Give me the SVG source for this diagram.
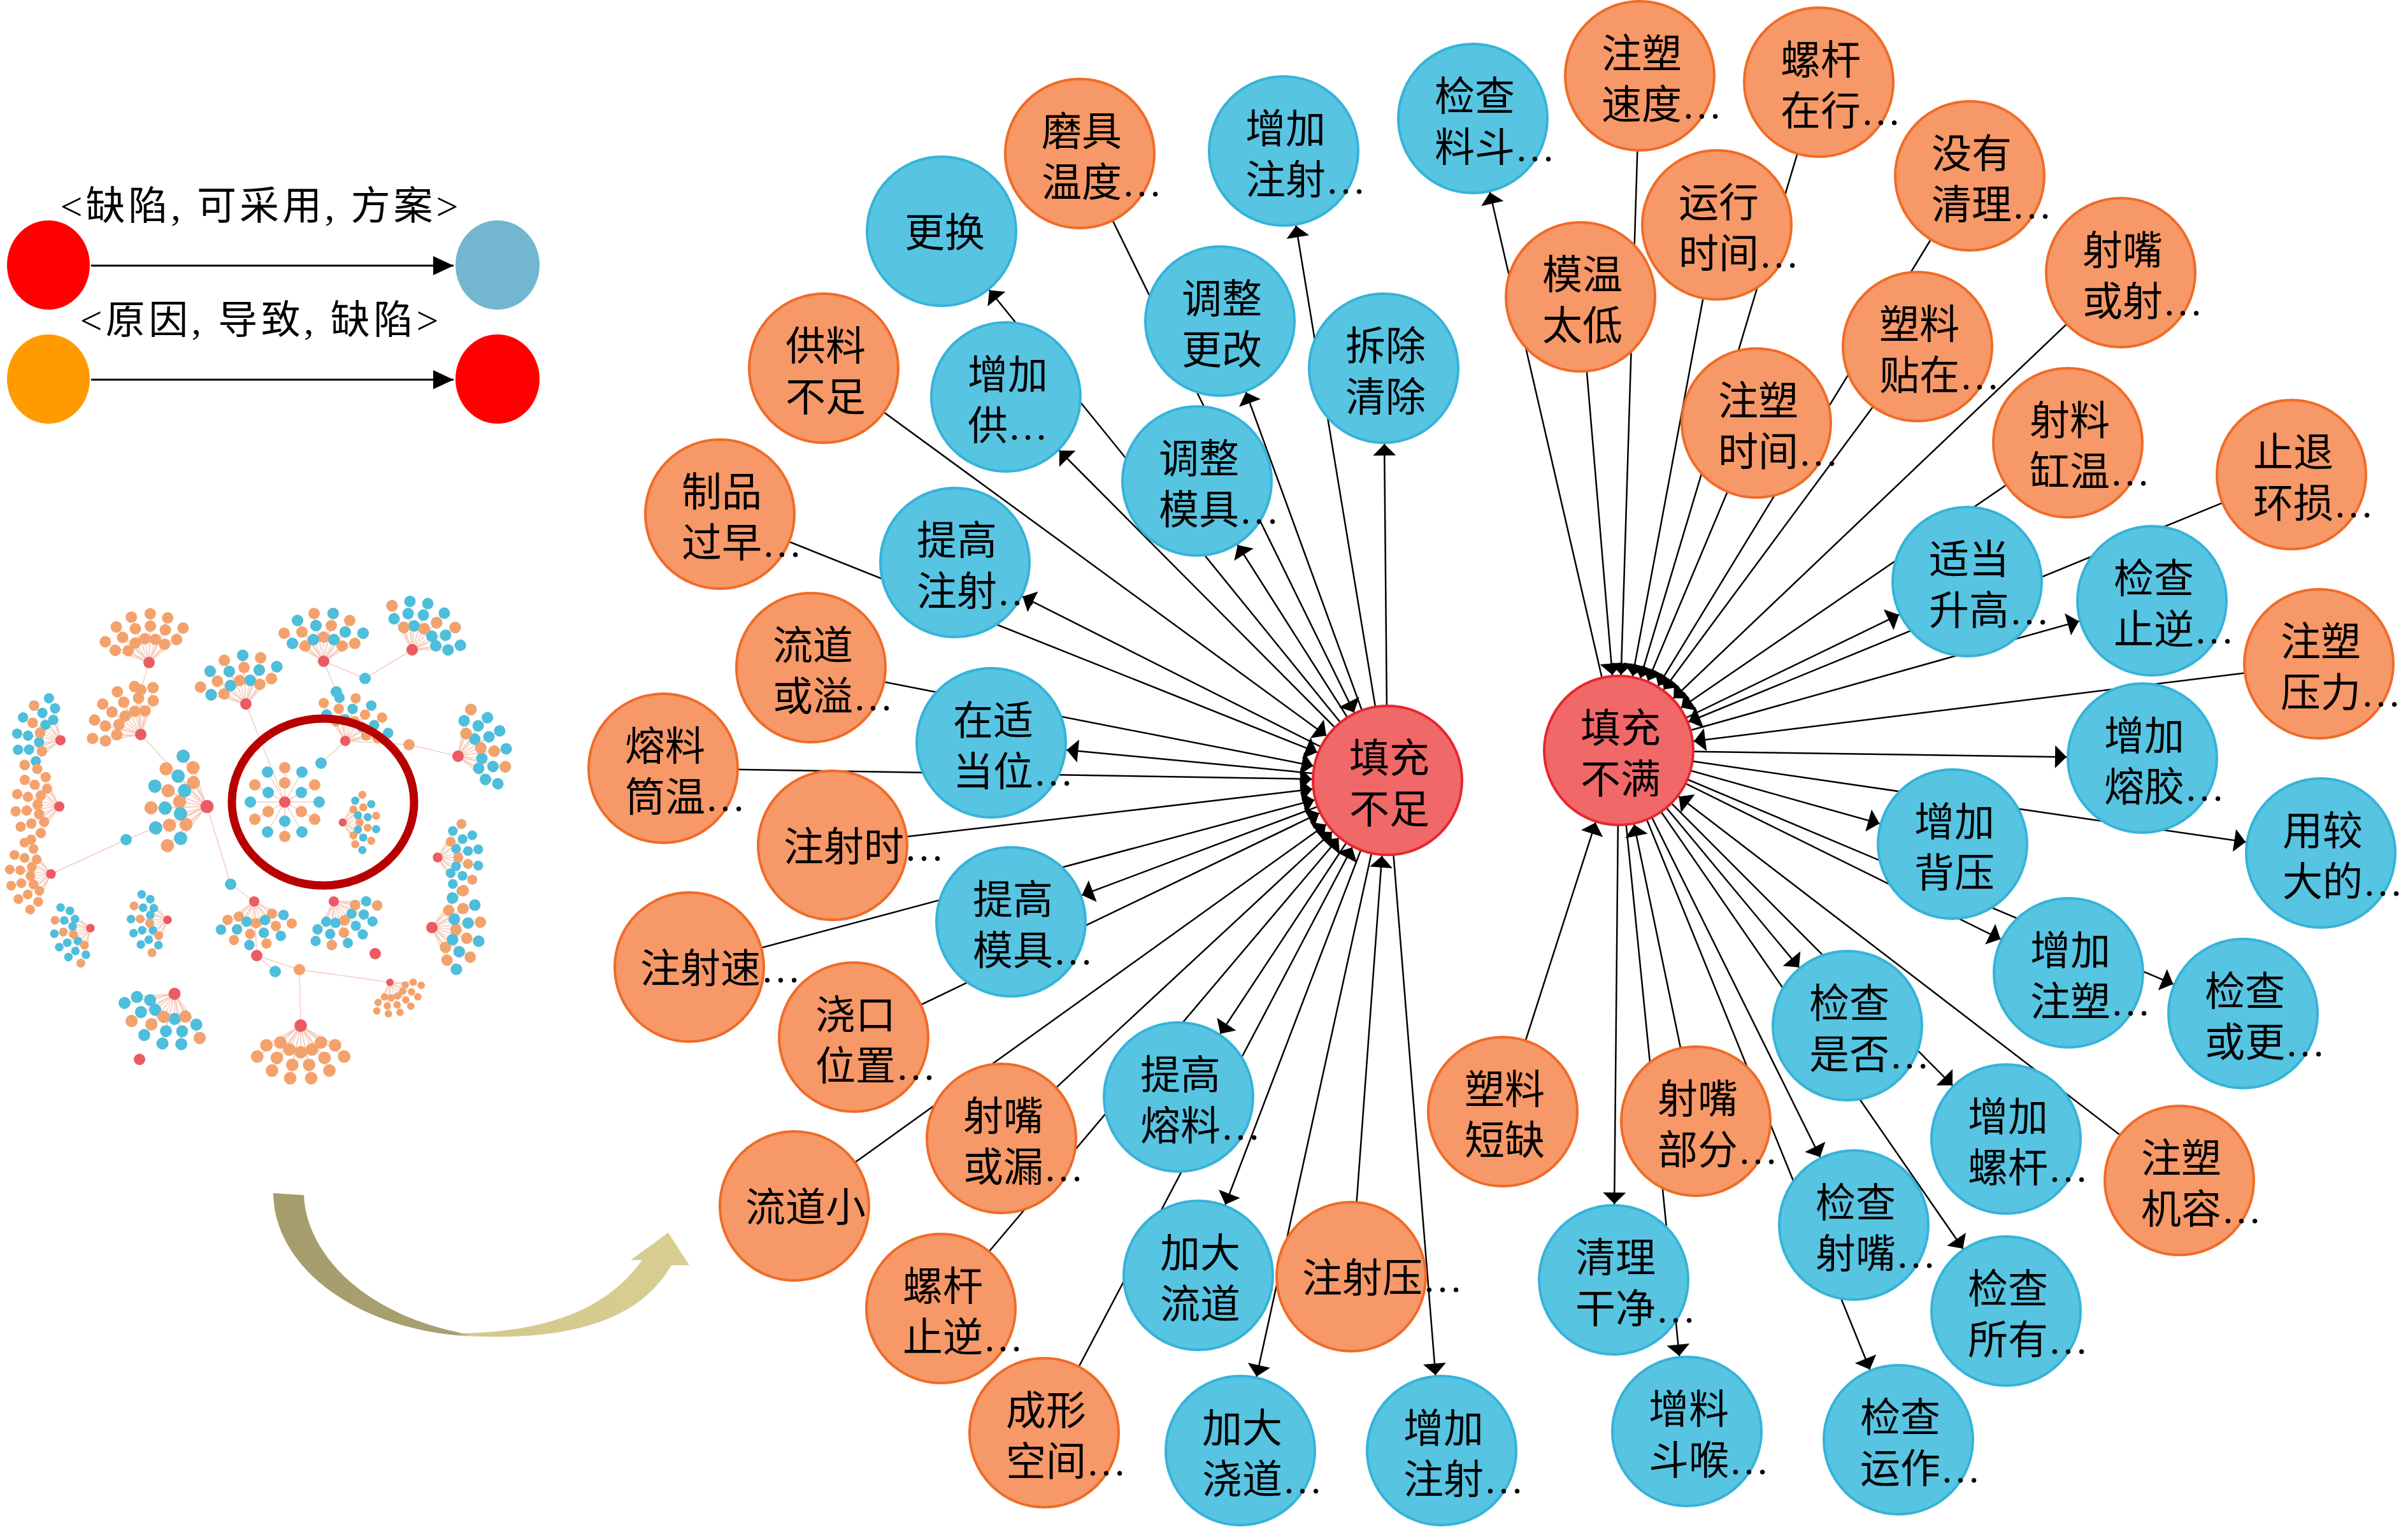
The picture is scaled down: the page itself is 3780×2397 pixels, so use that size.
<svg xmlns="http://www.w3.org/2000/svg" xmlns:xlink="http://www.w3.org/1999/xlink" width="3780" height="2397" viewBox="0 0 3780 2397">
<style>
text{font-family:"Liberation Serif","Noto Sans CJK SC",serif;fill:#000}
.n text{font-size:63px}
.b circle{fill:#57C4E2;stroke:#35B3D9;stroke-width:4}
.o circle{fill:#F69868;stroke:#F06B26;stroke-width:4}
.r circle{fill:#F06868;stroke:#E5272D;stroke-width:4}
#edges line{stroke:#000;stroke-width:2.5;marker-end:url(#ah)}
.tl{stroke:#F6CDBF;stroke-width:1.5;fill:none}
</style>
<defs>
<marker id="ah" markerUnits="userSpaceOnUse" orient="auto" markerWidth="10" markerHeight="10" refX="0" refY="0" style="overflow:visible"><path d="M-119,0L-137,-18L-137,18Z" fill="#000"/></marker>
<marker id="la" markerUnits="userSpaceOnUse" orient="auto" markerWidth="10" markerHeight="10" refX="0" refY="0" style="overflow:visible"><path d="M0,0L-32,-15L-32,15Z" fill="#000"/></marker>
<linearGradient id="cg" gradientUnits="userSpaceOnUse" x1="429" y1="0" x2="1085" y2="0"><stop offset="0" stop-color="#A69D6C"/><stop offset="0.44" stop-color="#A9A070"/><stop offset="0.47" stop-color="#D4C98C"/><stop offset="1" stop-color="#D8CE92"/></linearGradient>
<g id="fd"><circle cx="-29" cy="-24" r="9"/><circle cx="-16" cy="-34" r="9"/><circle cy="-38" r="9"/><circle cx="16" cy="-34" r="9"/><circle cx="29" cy="-24" r="9"/><circle cx="-49" cy="-28" r="9"/><circle cx="-34" cy="-46" r="9"/><circle cx="-12" cy="-56" r="9"/><circle cx="12" cy="-56" r="9"/><circle cx="34" cy="-46" r="9"/><circle cx="49" cy="-28" r="9"/><circle cx="-62" cy="-44" r="9"/><circle cx="-41" cy="-64" r="9"/><circle cx="-15" cy="-75" r="9"/><circle cx="15" cy="-75" r="9"/><circle cx="41" cy="-64" r="9"/><circle cx="62" cy="-44" r="9"/></g>
<g id="fs1"><circle cx="-16" cy="-34" r="9"/><circle cx="16" cy="-34" r="9"/><circle cx="-49" cy="-28" r="9"/><circle cx="-12" cy="-56" r="9"/><circle cx="34" cy="-46" r="9"/><circle cx="-41" cy="-64" r="9"/><circle cx="15" cy="-75" r="9"/><circle cx="62" cy="-44" r="9"/></g>
<g id="fs2"><circle cx="-29" cy="-24" r="9"/><circle cy="-38" r="9"/><circle cx="12" cy="-56" r="9"/><circle cx="-62" cy="-44" r="9"/><circle cx="41" cy="-64" r="9"/></g>
<path id="fl" class="tl" d="M0 0L-29-24M0 0L-16-34M0 0L0-38M0 0L16-34M0 0L29-24M0 0L-49-28M0 0L-34-46M0 0L-12-56M0 0L12-56M0 0L34-46M0 0L49-28M0 0L-62-44M0 0L-41-64M0 0L-15-75M0 0L15-75M0 0L41-64M0 0L62-44"/>
<g id="cO"><use href="#fl"/><use href="#fd" fill="#F4A26D"/><circle r="9" fill="#EC5A64"/></g>
<g id="cM"><use href="#fl"/><use href="#fd" fill="#F4A26D"/><use href="#fs1" fill="#4DBEDC"/><circle r="9" fill="#EC5A64"/></g>
<g id="cB"><use href="#fl"/><use href="#fd" fill="#4DBEDC"/><use href="#fs2" fill="#F4A26D"/><circle r="9" fill="#EC5A64"/></g>
</defs>
<rect width="3780" height="2397" fill="#FFFFFF"/>

<g id="thumbnail">
<path class="tl" d="M234 1040L221 1083L221 1153L325 1266M325 1266L198 1318L80 1372M386 1105L447 1259M508 1038L573 1065L647 1020M508 1038L528 1086M542 1163L504 1198M542 1163L642 1169L719 1187M325 1266L362 1388L399 1415M403 1500L432 1525M399 1415L403 1500L470 1522L472 1610M470 1522L612 1542M528 1086L542 1163"/>
<use href="#cO" transform="translate(234 1040) rotate(-10)"/>
<use href="#cO" transform="translate(221 1153) rotate(-40)"/>
<use href="#cB" transform="translate(95 1162) rotate(-70) scale(0.9)"/>
<use href="#cO" transform="translate(93 1266) rotate(-85) scale(0.9)"/>
<use href="#cO" transform="translate(80 1372) rotate(-95) scale(0.85)"/>
<use href="#cM" transform="translate(325 1266) rotate(-80) scale(1.15)"/>
<use href="#cM" transform="translate(386 1105) rotate(-15)"/>
<use href="#cM" transform="translate(508 1038) rotate(0)"/>
<use href="#cB" transform="translate(647 1020) rotate(30)"/>
<use href="#cM" transform="translate(542 1163) rotate(25) scale(0.9)"/>
<use href="#cM" transform="translate(538 1291) rotate(90) scale(0.7)"/>
<use href="#cB" transform="translate(719 1187) rotate(70)"/>
<use href="#cB" transform="translate(687 1346) rotate(90) scale(0.85)"/>
<use href="#cM" transform="translate(678 1456) rotate(95)"/>
<use href="#cB" transform="translate(524 1415) rotate(150) scale(0.9)"/>
<use href="#cM" transform="translate(399 1415) rotate(175) scale(0.9)"/>
<use href="#cO" transform="translate(472 1610) rotate(180) scale(1.1)"/>
<use href="#cO" transform="translate(612 1542) rotate(150) scale(0.65)"/>
<use href="#cB" transform="translate(274 1560) rotate(205) scale(1.05)"/>
<use href="#cB" transform="translate(142 1457) rotate(-110) scale(0.75)"/>
<use href="#cB" transform="translate(263 1444) rotate(-100) scale(0.75)"/>
<g transform="translate(447 1259)">
<path class="tl" d="M0 0L26 15M0 0L0 30M0 0L-26 15M0 0L-26-15M0 0L0-30M0 0L26-15M0 0L54 0M0 0L47 27M0 0L27 47M0 0L0 54M0 0L-27 47M0 0L-47 27M0 0L-54 0M0 0L-47-27M0 0L-27-47M0 0L0-54M0 0L27-47M0 0L47-27"/>
<g fill="#F4A26D"><circle cx="26" cy="15" r="9"/><circle cx="-26" cy="15" r="9"/><circle cy="-30" r="9"/><circle cx="47" cy="27" r="9"/><circle cy="54" r="9"/><circle cx="-47" cy="27" r="9"/><circle cx="-47" cy="-27" r="9"/><circle cy="-54" r="9"/><circle cx="47" cy="-27" r="9"/></g>
<g fill="#4DBEDC"><circle cy="30" r="9"/><circle cx="-26" cy="-15" r="9"/><circle cx="26" cy="-15" r="9"/><circle cx="54" r="9"/><circle cx="27" cy="47" r="9"/><circle cx="-27" cy="47" r="9"/><circle cx="-54" r="9"/><circle cx="-27" cy="-47" r="9"/><circle cx="27" cy="-47" r="9"/></g>
<circle r="9" fill="#EC5A64"/>
</g>
<g fill="#4DBEDC"><circle cx="198" cy="1318" r="9"/><circle cx="573" cy="1065" r="9"/><circle cx="528" cy="1086" r="9"/><circle cx="504" cy="1198" r="9"/><circle cx="362" cy="1388" r="9"/><circle cx="432" cy="1525" r="9"/></g>
<g fill="#F4A26D"><circle cx="221" cy="1083" r="9"/><circle cx="642" cy="1169" r="9"/><circle cx="470" cy="1522" r="9"/></g>
<g fill="#EC5A64"><circle cx="589" cy="1497" r="9"/><circle cx="403" cy="1500" r="9"/><circle cx="219" cy="1663" r="9"/></g>
<ellipse cx="507" cy="1259" rx="143" ry="131" fill="none" stroke="#B80000" stroke-width="13"/>
</g>

<g id="legend">
<ellipse cx="76" cy="416" rx="65" ry="70" fill="#FF0000"/>
<ellipse cx="781" cy="416" rx="66" ry="70" fill="#72B6CF"/>
<ellipse cx="76" cy="595" rx="65" ry="70" fill="#FF9A00"/>
<ellipse cx="781" cy="595" rx="66" ry="70" fill="#FF0000"/>
<line x1="143" y1="417" x2="712" y2="417" stroke="#000" stroke-width="3" marker-end="url(#la)"/>
<line x1="143" y1="596" x2="712" y2="596" stroke="#000" stroke-width="3" marker-end="url(#la)"/>
<text x="407" y="345" text-anchor="middle" font-size="62" textLength="625">&lt;缺陷, 可采用, 方案&gt;</text>
<text x="407" y="524" text-anchor="middle" font-size="62" textLength="563">&lt;原因, 导致, 缺陷&gt;</text>
</g>

<path id="curved-arrow" fill="url(#cg)" d="M429 1873L477 1876C480 1960 560 2060 727 2093C850 2090 950 2060 1008 1978L990 1978L1049 1935L1082 1986L1054 1986C1000 2080 880 2105 727 2097C560 2085 430 1990 429 1873Z"/>

<g id="edges">
<line x1="2178" y1="1225" x2="1478" y2="363"/>
<line x1="1695" y1="241" x2="2178" y2="1225"/>
<line x1="2178" y1="1225" x2="2015" y2="237"/>
<line x1="2178" y1="1225" x2="1915" y2="504"/>
<line x1="2178" y1="1225" x2="2172" y2="578"/>
<line x1="1293" y1="578" x2="2178" y2="1225"/>
<line x1="2178" y1="1225" x2="1579" y2="623"/>
<line x1="2178" y1="1225" x2="1879" y2="755"/>
<line x1="1130" y1="807" x2="2178" y2="1225"/>
<line x1="2178" y1="1225" x2="1499" y2="883"/>
<line x1="1273" y1="1048" x2="2178" y2="1225"/>
<line x1="2178" y1="1225" x2="1556" y2="1166"/>
<line x1="1041" y1="1206" x2="2178" y2="1225"/>
<line x1="1307" y1="1327" x2="2178" y2="1225"/>
<line x1="1082" y1="1518" x2="2178" y2="1225"/>
<line x1="2178" y1="1225" x2="1587" y2="1447"/>
<line x1="1340" y1="1628" x2="2178" y2="1225"/>
<line x1="1572" y1="1787" x2="2178" y2="1225"/>
<line x1="2178" y1="1225" x2="1850" y2="1722"/>
<line x1="1247" y1="1893" x2="2178" y2="1225"/>
<line x1="1477" y1="2054" x2="2178" y2="1225"/>
<line x1="2178" y1="1225" x2="1881" y2="2002"/>
<line x1="2121" y1="2004" x2="2178" y2="1225"/>
<line x1="1639" y1="2249" x2="2178" y2="1225"/>
<line x1="2178" y1="1225" x2="1947" y2="2277"/>
<line x1="2178" y1="1225" x2="2263" y2="2277"/>
<line x1="2541" y1="1178" x2="2312" y2="186"/>
<line x1="2574" y1="119" x2="2541" y2="1178"/>
<line x1="2855" y1="129" x2="2541" y2="1178"/>
<line x1="2695" y1="353" x2="2541" y2="1178"/>
<line x1="2481" y1="466" x2="2541" y2="1178"/>
<line x1="3092" y1="276" x2="2541" y2="1178"/>
<line x1="3329" y1="428" x2="2541" y2="1178"/>
<line x1="3010" y1="544" x2="2541" y2="1178"/>
<line x1="2757" y1="664" x2="2541" y2="1178"/>
<line x1="3246" y1="695" x2="2541" y2="1178"/>
<line x1="3597" y1="745" x2="2541" y2="1178"/>
<line x1="2541" y1="1178" x2="3088" y2="913"/>
<line x1="2541" y1="1178" x2="3378" y2="943"/>
<line x1="3640" y1="1042" x2="2541" y2="1178"/>
<line x1="2541" y1="1178" x2="3363" y2="1190"/>
<line x1="2541" y1="1178" x2="3065" y2="1325"/>
<line x1="2541" y1="1178" x2="3643" y2="1339"/>
<line x1="2541" y1="1178" x2="3247" y2="1527"/>
<line x1="2541" y1="1178" x2="3521" y2="1591"/>
<line x1="2541" y1="1178" x2="2900" y2="1610"/>
<line x1="2541" y1="1178" x2="3149" y2="1788"/>
<line x1="3421" y1="1853" x2="2541" y2="1178"/>
<line x1="2359" y1="1745" x2="2541" y2="1178"/>
<line x1="2662" y1="1760" x2="2541" y2="1178"/>
<line x1="2541" y1="1178" x2="2533" y2="2009"/>
<line x1="2541" y1="1178" x2="2910" y2="1923"/>
<line x1="2541" y1="1178" x2="3149" y2="2058"/>
<line x1="2541" y1="1178" x2="2648" y2="2247"/>
<line x1="2541" y1="1178" x2="2980" y2="2260"/>
</g>

<g id="nodes">
<g id="n-genghuan" class="n b"><circle cx="1478" cy="363" r="117"/><text x="1420" y="387">更换</text></g>
<g id="n-moju" class="n o"><circle cx="1695" cy="241" r="117"/><text x="1635" y="228">磨具<tspan x="1635" dy="80">温度…</tspan></text></g>
<g id="n-zengjia-zhushe-top" class="n b"><circle cx="2015" cy="237" r="117"/><text x="1955" y="224">增加<tspan x="1955" dy="80">注射…</tspan></text></g>
<g id="n-jiancha-liaodou" class="n b"><circle cx="2312" cy="186" r="117"/><text x="2252" y="173">检查<tspan x="2252" dy="80">料斗…</tspan></text></g>
<g id="n-tiaozheng-genggai" class="n b"><circle cx="1915" cy="504" r="117"/><text x="1855" y="491">调整<tspan x="1855" dy="80">更改</tspan></text></g>
<g id="n-chaichu" class="n b"><circle cx="2172" cy="578" r="117"/><text x="2112" y="565">拆除<tspan x="2112" dy="80">清除</tspan></text></g>
<g id="n-gongliao" class="n o"><circle cx="1293" cy="578" r="117"/><text x="1233" y="565">供料<tspan x="1233" dy="80">不足</tspan></text></g>
<g id="n-zengjia-gong" class="n b"><circle cx="1579" cy="623" r="117"/><text x="1519" y="610">增加<tspan x="1519" dy="80">供…</tspan></text></g>
<g id="n-tiaozheng-moju" class="n b"><circle cx="1879" cy="755" r="117"/><text x="1819" y="742">调整<tspan x="1819" dy="80">模具…</tspan></text></g>
<g id="n-zhipin" class="n o"><circle cx="1130" cy="807" r="117"/><text x="1070" y="794">制品<tspan x="1070" dy="80">过早…</tspan></text></g>
<g id="n-tigao-zhushe" class="n b"><circle cx="1499" cy="883" r="117"/><text x="1439" y="870">提高<tspan x="1439" dy="80">注射…</tspan></text></g>
<g id="n-liudao-yi" class="n o"><circle cx="1273" cy="1048" r="117"/><text x="1213" y="1035">流道<tspan x="1213" dy="80">或溢…</tspan></text></g>
<g id="n-zaishi" class="n b"><circle cx="1556" cy="1166" r="117"/><text x="1496" y="1153">在适<tspan x="1496" dy="80">当位…</tspan></text></g>
<g id="n-rongliao-tong" class="n o"><circle cx="1041" cy="1206" r="117"/><text x="981" y="1193">熔料<tspan x="981" dy="80">筒温…</tspan></text></g>
<g id="n-zhushe-shi" class="n o"><circle cx="1307" cy="1327" r="117"/><text x="1230" y="1351">注射时…</text></g>
<g id="n-zhushe-su" class="n o"><circle cx="1082" cy="1518" r="117"/><text x="1005" y="1542">注射速…</text></g>
<g id="n-tigao-moju" class="n b"><circle cx="1587" cy="1447" r="117"/><text x="1527" y="1434">提高<tspan x="1527" dy="80">模具…</tspan></text></g>
<g id="n-jiaokou" class="n o"><circle cx="1340" cy="1628" r="117"/><text x="1280" y="1615">浇口<tspan x="1280" dy="80">位置…</tspan></text></g>
<g id="n-shezui-lou" class="n o"><circle cx="1572" cy="1787" r="117"/><text x="1512" y="1774">射嘴<tspan x="1512" dy="80">或漏…</tspan></text></g>
<g id="n-tigao-rongliao" class="n b"><circle cx="1850" cy="1722" r="117"/><text x="1790" y="1709">提高<tspan x="1790" dy="80">熔料…</tspan></text></g>
<g id="n-liudao-xiao" class="n o"><circle cx="1247" cy="1893" r="117"/><text x="1170" y="1917">流道小</text></g>
<g id="n-luogan-zhini" class="n o"><circle cx="1477" cy="2054" r="117"/><text x="1417" y="2041">螺杆<tspan x="1417" dy="80">止逆…</tspan></text></g>
<g id="n-jiada-liudao" class="n b"><circle cx="1881" cy="2002" r="117"/><text x="1821" y="1989">加大<tspan x="1821" dy="80">流道</tspan></text></g>
<g id="n-zhushe-ya" class="n o"><circle cx="2121" cy="2004" r="117"/><text x="2044" y="2028">注射压…</text></g>
<g id="n-chengxing" class="n o"><circle cx="1639" cy="2249" r="117"/><text x="1579" y="2236">成形<tspan x="1579" dy="80">空间…</tspan></text></g>
<g id="n-jiada-jiaodao" class="n b"><circle cx="1947" cy="2277" r="117"/><text x="1887" y="2264">加大<tspan x="1887" dy="80">浇道…</tspan></text></g>
<g id="n-zengjia-zhushe-bottom" class="n b"><circle cx="2263" cy="2277" r="117"/><text x="2203" y="2264">增加<tspan x="2203" dy="80">注射…</tspan></text></g>
<g id="n-tianchong-buzu" class="n r"><circle cx="2178" cy="1225" r="117"/><text x="2118" y="1212">填充<tspan x="2118" dy="80">不足</tspan></text></g>
<g id="n-tianchong-buman" class="n r"><circle cx="2541" cy="1178" r="117"/><text x="2481" y="1165">填充<tspan x="2481" dy="80">不满</tspan></text></g>
<g id="n-zhusu-sudu" class="n o"><circle cx="2574" cy="119" r="117"/><text x="2514" y="106">注塑<tspan x="2514" dy="80">速度…</tspan></text></g>
<g id="n-luogan-zaixing" class="n o"><circle cx="2855" cy="129" r="117"/><text x="2795" y="116">螺杆<tspan x="2795" dy="80">在行…</tspan></text></g>
<g id="n-yunxing" class="n o"><circle cx="2695" cy="353" r="117"/><text x="2635" y="340">运行<tspan x="2635" dy="80">时间…</tspan></text></g>
<g id="n-mowen" class="n o"><circle cx="2481" cy="466" r="117"/><text x="2421" y="453">模温<tspan x="2421" dy="80">太低</tspan></text></g>
<g id="n-meiyou" class="n o"><circle cx="3092" cy="276" r="117"/><text x="3032" y="263">没有<tspan x="3032" dy="80">清理…</tspan></text></g>
<g id="n-shezui-she" class="n o"><circle cx="3329" cy="428" r="117"/><text x="3269" y="415">射嘴<tspan x="3269" dy="80">或射…</tspan></text></g>
<g id="n-suliao-tiezai" class="n o"><circle cx="3010" cy="544" r="117"/><text x="2950" y="531">塑料<tspan x="2950" dy="80">贴在…</tspan></text></g>
<g id="n-zhusu-shijian" class="n o"><circle cx="2757" cy="664" r="117"/><text x="2697" y="651">注塑<tspan x="2697" dy="80">时间…</tspan></text></g>
<g id="n-sheliao" class="n o"><circle cx="3246" cy="695" r="117"/><text x="3186" y="682">射料<tspan x="3186" dy="80">缸温…</tspan></text></g>
<g id="n-zhitui" class="n o"><circle cx="3597" cy="745" r="117"/><text x="3537" y="732">止退<tspan x="3537" dy="80">环损…</tspan></text></g>
<g id="n-shidang" class="n b"><circle cx="3088" cy="913" r="117"/><text x="3028" y="900">适当<tspan x="3028" dy="80">升高…</tspan></text></g>
<g id="n-jiancha-zhini" class="n b"><circle cx="3378" cy="943" r="117"/><text x="3318" y="930">检查<tspan x="3318" dy="80">止逆…</tspan></text></g>
<g id="n-zhusu-yali" class="n o"><circle cx="3640" cy="1042" r="117"/><text x="3580" y="1029">注塑<tspan x="3580" dy="80">压力…</tspan></text></g>
<g id="n-zengjia-rongjiao" class="n b"><circle cx="3363" cy="1190" r="117"/><text x="3303" y="1177">增加<tspan x="3303" dy="80">熔胶…</tspan></text></g>
<g id="n-zengjia-beiya" class="n b"><circle cx="3065" cy="1325" r="117"/><text x="3005" y="1312">增加<tspan x="3005" dy="80">背压</tspan></text></g>
<g id="n-yongjiao" class="n b"><circle cx="3643" cy="1339" r="117"/><text x="3583" y="1326">用较<tspan x="3583" dy="80">大的…</tspan></text></g>
<g id="n-zengjia-zhusu" class="n b"><circle cx="3247" cy="1527" r="117"/><text x="3187" y="1514">增加<tspan x="3187" dy="80">注塑…</tspan></text></g>
<g id="n-jiancha-huogeng" class="n b"><circle cx="3521" cy="1591" r="117"/><text x="3461" y="1578">检查<tspan x="3461" dy="80">或更…</tspan></text></g>
<g id="n-jiancha-shifou" class="n b"><circle cx="2900" cy="1610" r="117"/><text x="2840" y="1597">检查<tspan x="2840" dy="80">是否…</tspan></text></g>
<g id="n-zengjia-luogan" class="n b"><circle cx="3149" cy="1788" r="117"/><text x="3089" y="1775">增加<tspan x="3089" dy="80">螺杆…</tspan></text></g>
<g id="n-zhusuji" class="n o"><circle cx="3421" cy="1853" r="117"/><text x="3361" y="1840">注塑<tspan x="3361" dy="80">机容…</tspan></text></g>
<g id="n-suliao-duanque" class="n o"><circle cx="2359" cy="1745" r="117"/><text x="2299" y="1732">塑料<tspan x="2299" dy="80">短缺</tspan></text></g>
<g id="n-shezui-bufen" class="n o"><circle cx="2662" cy="1760" r="117"/><text x="2602" y="1747">射嘴<tspan x="2602" dy="80">部分…</tspan></text></g>
<g id="n-qingli" class="n b"><circle cx="2533" cy="2009" r="117"/><text x="2473" y="1996">清理<tspan x="2473" dy="80">干净…</tspan></text></g>
<g id="n-jiancha-shezui" class="n b"><circle cx="2910" cy="1923" r="117"/><text x="2850" y="1910">检查<tspan x="2850" dy="80">射嘴…</tspan></text></g>
<g id="n-jiancha-suoyou" class="n b"><circle cx="3149" cy="2058" r="117"/><text x="3089" y="2045">检查<tspan x="3089" dy="80">所有…</tspan></text></g>
<g id="n-zengliao" class="n b"><circle cx="2648" cy="2247" r="117"/><text x="2588" y="2234">增料<tspan x="2588" dy="80">斗喉…</tspan></text></g>
<g id="n-jiancha-yunzuo" class="n b"><circle cx="2980" cy="2260" r="117"/><text x="2920" y="2247">检查<tspan x="2920" dy="80">运作…</tspan></text></g>
</g>
</svg>
